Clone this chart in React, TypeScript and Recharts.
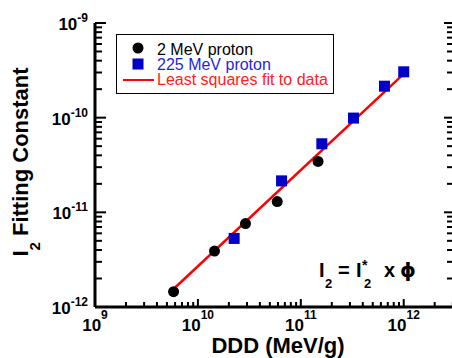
import React from "react";
import { ScatterChart, Scatter, XAxis, YAxis, Legend } from "recharts";

// 2 MeV proton irradiation
const ddd2MeV = [5.8e9, 1.45e10, 2.9e10, 5.9e10, 1.47e11];
const i2For2MeV = [1.45e-12, 3.9e-12, 7.6e-12, 1.3e-11, 3.45e-11];

// 225 MeV proton irradiation
const ddd225MeV = [2.25e10, 6.5e10, 1.6e11, 3.25e11, 6.5e11, 1.0e12];
const i2For225MeV = [5.3e-12, 2.15e-11, 5.3e-11, 9.9e-11, 2.15e-10, 3.05e-10];

// least squares fit end points
const fitDdd = [5.8e9, 1.0e12];
const fitI2 = [1.55e-12, 2.9e-10];

const xDecades = [9, 10, 11, 12];
const yDecades = [-12, -11, -10, -9];
const X_DOMAIN: [number, number] = [1e9, 3.15e12];
const Y_DOMAIN: [number, number] = [1e-12, 1e-9];

const FONT = "'Liberation Sans', Arial, sans-serif";

const toPoints = (xs: number[], ys: number[]) => xs.map((x, i) => ({ ddd: x, i2: ys[i] }));

const logTicks = (decades: number[], lo: number, hi: number) => {
  const out: number[] = [];
  decades.forEach((d) => {
    for (let k = 1; k <= 9; k++) {
      const v = k * Math.pow(10, d);
      if (v >= lo * 0.999 && v <= hi * 1.001) out.push(v);
    }
  });
  return out;
};

const xTicks = logTicks(xDecades, X_DOMAIN[0], X_DOMAIN[1]);
const yTicks = logTicks(yDecades, Y_DOMAIN[0], Y_DOMAIN[1]);

const exponent = (v: number) => Math.round(Math.log10(v));
const isMajor = (v: number) => Math.abs(Math.log10(v) - exponent(v)) < 1e-6;

const Pow10 = ({ x, y, v, anchor, rise }: { x: number; y: number; v: number; anchor: "middle" | "end"; rise: number }) => (
  <text x={x} y={y} textAnchor={anchor} fontFamily={FONT} fontWeight="bold" fontSize={17} fill="#000">
    10
    <tspan dy={-rise} fontSize={12}>
      {exponent(v)}
    </tspan>
  </text>
);

const BottomTick = (props: any) => {
  const { x, y, payload } = props;
  const major = isMajor(payload.value);
  return (
    <g>
      <line x1={x} x2={x} y1={y} y2={y - (major ? 8 : 5)} stroke="#000" strokeWidth={2} />
      {major && <Pow10 x={x} y={y + 24} v={payload.value} anchor="middle" rise={12} />}
    </g>
  );
};

const TopTick = (props: any) => {
  const { x, y, payload } = props;
  const major = isMajor(payload.value);
  return <line x1={x} x2={x} y1={y} y2={y + (major ? 7 : 4.5)} stroke="#000" strokeWidth={2} />;
};

const LeftTick = (props: any) => {
  const { x, y, payload } = props;
  const major = isMajor(payload.value);
  return (
    <g>
      <line x1={x} x2={x + (major ? 11 : 7)} y1={y} y2={y} stroke="#000" strokeWidth={2} />
      {major && <Pow10 x={x - 7} y={y + 7} v={payload.value} anchor="end" rise={8} />}
    </g>
  );
};

const RightTick = (props: any) => {
  const { x, y, payload } = props;
  const major = isMajor(payload.value);
  return <line x1={x} x2={x - (major ? 11 : 8)} y1={y} y2={y} stroke="#000" strokeWidth={2} />;
};

const Dot = (p: any) => <circle cx={p.cx} cy={p.cy} r={5.5} fill="#000" />;
const Square = (p: any) => <rect x={p.cx - 5.5} y={p.cy - 5.5} width={11} height={11} fill="#0000c8" />;
const NoMark = () => <g />;

const LegendBox = () => (
  <div style={{ width: 218, height: 60, border: "1px solid #000", boxSizing: "border-box", background: "#fff" }}>
    <svg width={216} height={58} style={{ display: "block" }}>
      <g fontFamily={FONT} fontSize={16}>
        <circle cx={21} cy={13} r={5.5} fill="#000" />
        <text x={40} y={19.5} fill="#000">
          2 MeV proton
        </text>
        <rect x={15.5} y={23.5} width={11} height={11} fill="#0000c8" />
        <text x={40} y={34.5} fill="#1f1fe0">
          225 MeV proton
        </text>
        <line x1={6} x2={37} y1={45} y2={45} stroke="#ff0000" strokeWidth={2} />
        <text x={40} y={49.5} fill="#ff2020">
          Least squares fit to data
        </text>
      </g>
    </svg>
  </div>
);

export default function App() {
  const axisLine = { stroke: "#000", strokeWidth: 3 };
  return (
    <div style={{ position: "absolute", left: 0, top: 0, width: 452, height: 358, overflow: "hidden", background: "#fff" }}>
      <ScatterChart width={458} height={358} margin={{ top: 23, right: 0, bottom: 0, left: 0 }}>
        <XAxis
          xAxisId="bottom"
          type="number"
          dataKey="ddd"
          scale="log"
          domain={X_DOMAIN}
          allowDataOverflow
          ticks={xTicks}
          interval={0}
          height={51}
          tickSize={0}
          tickMargin={0}
          tickLine={false}
          axisLine={axisLine}
          tick={<BottomTick />}
        />
        <XAxis
          xAxisId="top"
          orientation="top"
          type="number"
          dataKey="ddd"
          scale="log"
          domain={X_DOMAIN}
          allowDataOverflow
          ticks={xTicks}
          interval={0}
          height={0}
          tickSize={0}
          tickMargin={0}
          tickLine={false}
          axisLine={axisLine}
          tick={<TopTick />}
        />
        <YAxis
          yAxisId="left"
          type="number"
          dataKey="i2"
          scale="log"
          domain={Y_DOMAIN}
          allowDataOverflow
          ticks={yTicks}
          interval={0}
          width={95}
          tickSize={0}
          tickMargin={0}
          tickLine={false}
          axisLine={axisLine}
          tick={<LeftTick />}
        />
        <YAxis
          yAxisId="right"
          orientation="right"
          type="number"
          dataKey="i2"
          scale="log"
          domain={Y_DOMAIN}
          allowDataOverflow
          ticks={yTicks}
          interval={0}
          width={3}
          tickSize={0}
          tickMargin={0}
          tickLine={false}
          axisLine={axisLine}
          tick={<RightTick />}
        />
        <Legend
          verticalAlign="middle"
          content={<LegendBox />}
          wrapperStyle={{ left: 116, top: 34, width: 218, height: 60 }}
        />
        <Scatter
          name="Least squares fit to data"
          xAxisId="bottom"
          yAxisId="left"
          data={toPoints(fitDdd, fitI2)}
          line={{ stroke: "#ff0000", strokeWidth: 2.5 }}
          shape={<NoMark />}
          isAnimationActive={false}
        />
        <Scatter
          name="2 MeV proton"
          xAxisId="bottom"
          yAxisId="left"
          data={toPoints(ddd2MeV, i2For2MeV)}
          shape={<Dot />}
          isAnimationActive={false}
        />
        <Scatter
          name="225 MeV proton"
          xAxisId="bottom"
          yAxisId="left"
          data={toPoints(ddd225MeV, i2For225MeV)}
          shape={<Square />}
          isAnimationActive={false}
        />
        <text x={278} y={353} textAnchor="middle" fontFamily={FONT} fontWeight="bold" fontSize={22} fill="#000">
          DDD (MeV/g)
        </text>
        <text
          x={28}
          y={162}
          transform="rotate(-90 28 162)"
          textAnchor="middle"
          fontFamily={FONT}
          fontWeight="bold"
          fontSize={22}
          fill="#000"
        >
          I
          <tspan dy={12} fontSize={15}>
            2
          </tspan>
          <tspan dy={-12}> Fitting Constant</tspan>
        </text>
        {/* relation between I2, I*2 and fluence */}
        <g fontFamily={FONT} fontWeight="bold" fill="#000">
          <text x={319} y={277} fontSize={20}>I</text>
          <text x={325} y={288} fontSize={13}>2</text>
          <text x={338} y={277} fontSize={20}>=</text>
          <text x={356} y={277} fontSize={20}>I</text>
          <text x={362} y={270} fontSize={14}>*</text>
          <text x={364} y={288} fontSize={13}>2</text>
          <text x={384} y={277} fontSize={20}>x</text>
          <text x={400} y={277} fontSize={20} fontFamily="'DejaVu Sans', sans-serif">ϕ</text>
        </g>
      </ScatterChart>
    </div>
  );
}
